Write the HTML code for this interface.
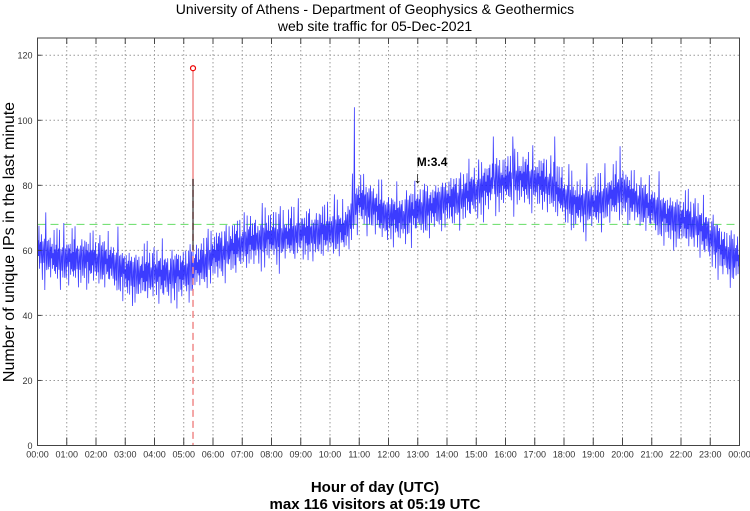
<!DOCTYPE html>
<html><head><meta charset="utf-8"><style>
body{margin:0;background:#fff;}
svg{display:block;font-family:"Liberation Sans",sans-serif;}
</style></head><body>
<svg id="chart" width="750" height="511">
<text x="375" y="14" text-anchor="middle" font-size="14">University of Athens - Department of Geophysics &amp; Geothermics</text>
<text x="375" y="31" text-anchor="middle" font-size="14">web site traffic for 05-Dec-2021</text>
<text transform="translate(14,242) rotate(-90)" text-anchor="middle" font-size="16">Number of unique IPs in the last minute</text>
<text x="375" y="492" text-anchor="middle" font-size="15" font-weight="bold">Hour of day (UTC)</text>
<text x="375" y="509" text-anchor="middle" font-size="15" font-weight="bold">max 116 visitors at 05:19 UTC</text>
<g id="grid"></g><g id="series"></g><g id="axes"></g>
</svg>
<script>
const yTicks=[0,20,40,60,80,100,120];
const xTickLabels=["00:00","01:00","02:00","03:00","04:00","05:00","06:00","07:00","08:00","09:00","10:00","11:00","12:00","13:00","14:00","15:00","16:00","17:00","18:00","19:00","20:00","21:00","22:00","23:00","00:00"];
const halfHourMeans=[60,58,57,57,57,56,53,52,53,52,53,55,58,60,62,63,64,64,65,65,66,66,75,73,70,70,72,73,75,76,78,80,81,82,81,80,76,74,74,76,78,75,73,70,69,68,64,59,57];
const spikeMinutes=[319,650,935,975,1061,1195];
const spikeValues=[82,104,95,95,95,92];
const avgLine=68;
const peakMinute=319, peakValue=116;
const eventMinute=780, eventLabel="M:3.4";
const NS="http://www.w3.org/2000/svg";
const L=37.5,R=739.5,T=38,B=445.5,YMAX=125.3;
const xs=m=>L+(R-L)*m/1440, ys=v=>B-(B-T)*v/YMAX;
function mk(p,tag,at){const e=document.createElementNS(NS,tag);for(const k in at)e.setAttribute(k,at[k]);p.appendChild(e);return e;}
const grid=document.getElementById('grid'),ser=document.getElementById('series'),ax=document.getElementById('axes');
yTicks.forEach(v=>{const y=ys(v);
 if(v>0){const l=mk(grid,'line',{x1:L,x2:R,y1:y,y2:y,stroke:'#999','stroke-dasharray':'1.5,2.5'});
 
 }
 mk(ax,'line',{x1:L,x2:L+4,y1:y,y2:y,stroke:'#444'});
 const t=mk(ax,'text',{x:L-5,y:y+3.5,'text-anchor':'end','font-size':9,fill:'#333'});t.textContent=v;
 
 
});
xTickLabels.forEach((s,i)=>{const x=xs(i*60);
 if(i>0&&i<24){const l=mk(grid,'line',{x1:x,x2:x,y1:T,y2:B,stroke:'#999','stroke-dasharray':'1.5,2.5'});
 
 }
 mk(ax,'line',{x1:x,x2:x,y1:B,y2:B-8,stroke:'#444'});
 mk(ax,'line',{x1:x,x2:x,y1:T,y2:T+6,stroke:'#444'});
 const t=mk(ax,'text',{x:x,y:B+12,'text-anchor':'middle','font-size':9,fill:'#333'});t.textContent=s;
 
 
});
const frame=mk(ax,'rect',{x:L,y:T,width:R-L,height:B-T,fill:'none',stroke:'#444'});


const av=mk(ser,'line',{x1:L,x2:R,y1:ys(avgLine),y2:ys(avgLine),stroke:'#66dd66','stroke-dasharray':'8,5'});


// fixed irregular jitter pattern (style only)
const pat=[-1,.8,-.4,1.3,-.9,.3,.6,-.7,1.1,-.2,-1.2,.5,.1,-.6,.9,-1.4,.4,1.6,-.3,-.8,.7,.2,-1.1,1.2,-.5,.0,.8,-1.3,.6,-.1,1.0,-.9,.3,-.4,1.4,-.7,.5];
const amp=[4,6,5,7,5,8,6,4,7,5];
let pts=[];
for(let m=0;m<=1440;m++){const f=m/30,i=Math.min(Math.floor(f),47),fr=f-i;
 let v=halfHourMeans[i]*(1-fr)+halfHourMeans[i+1]*fr+amp[Math.floor(m/3)%amp.length]*pat[m%pat.length];
 const si=spikeMinutes.indexOf(m);if(si>=0&&m!==peakMinute)v=spikeValues[si];
 pts.push(xs(m).toFixed(2)+','+ys(v).toFixed(1));}
const pl=mk(ser,'polyline',{points:pts.join(' '),fill:'none',stroke:'#1a1aff','stroke-width':0.8,'stroke-opacity':0.85});


const px=xs(peakMinute);
const pk1=mk(ser,'line',{x1:px,x2:px,y1:ys(peakValue),y2:ys(spikeValues[0]),stroke:'#f08a8a','stroke-width':1.5});


const pk2=mk(ser,'line',{x1:px,x2:px,y1:ys(spikeValues[0]),y2:B,stroke:'#f08a8a','stroke-width':1.5,'stroke-dasharray':'7,4'});


const pk3=mk(ser,'line',{x1:px,x2:px,y1:ys(spikeValues[0]),y2:ys(60),stroke:'#000','stroke-width':1});


const pc=mk(ser,'circle',{cx:px,cy:ys(peakValue),r:2.5,fill:'#fff',stroke:'#e00','stroke-width':1.2});


const ex=xs(eventMinute);
const et=mk(ser,'text',{x:ex-1,y:166,'font-size':12,'font-weight':'bold'});et.textContent=eventLabel;


const ea=mk(ser,'text',{x:ex-4,y:183,'font-size':16});ea.textContent='↓';


</script>
</body></html>
